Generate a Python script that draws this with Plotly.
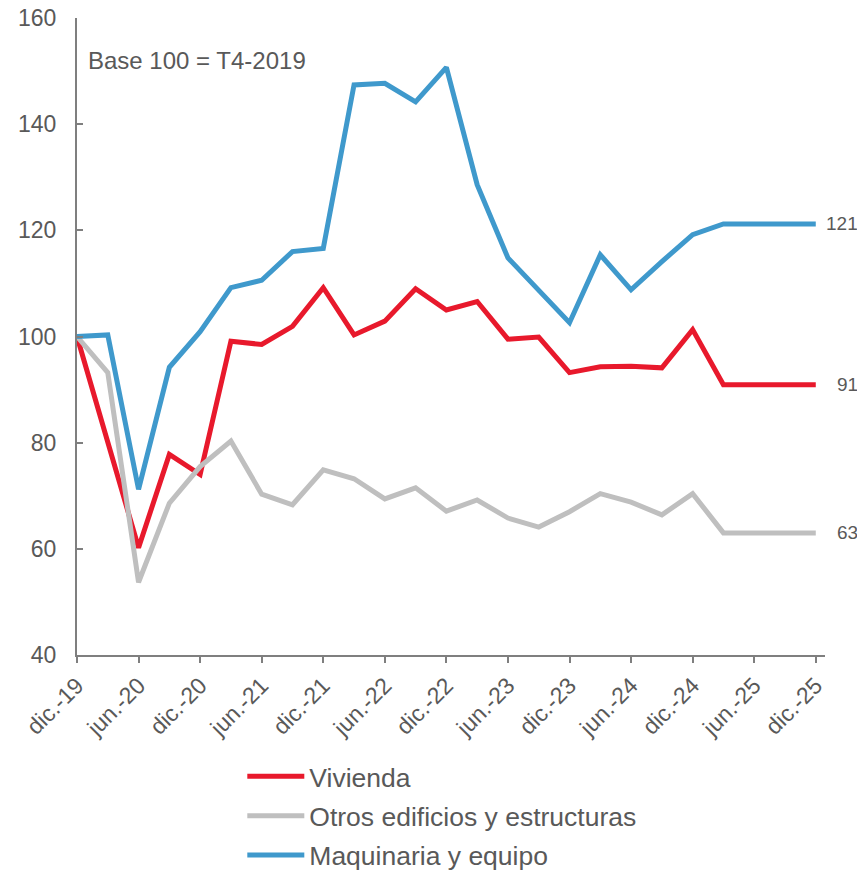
import plotly.graph_objects as go

quarters = ["dic.-19", "mar.-20", "jun.-20", "sep.-20", "dic.-20", "mar.-21", "jun.-21", "sep.-21",
            "dic.-21", "mar.-22", "jun.-22", "sep.-22", "dic.-22", "mar.-23", "jun.-23", "sep.-23",
            "dic.-23", "mar.-24", "jun.-24", "sep.-24", "dic.-24", "mar.-25", "jun.-25", "sep.-25",
            "dic.-25"]

vivienda = [100, 80.3, 60.2, 77.8, 74.0, 99.1, 98.5, 101.9, 109.2, 100.3, 102.9, 109.0, 105.0,
            106.6, 99.5, 99.9, 93.2, 94.3, 94.4, 94.1, 101.3, 90.9, 90.9, 90.9, 90.9]
otros = [100, 93.2, 53.7, 68.6, 75.5, 80.3, 70.3, 68.3, 74.9, 73.2, 69.4, 71.5, 67.1,
         69.2, 65.8, 64.1, 67.0, 70.4, 68.8, 66.4, 70.4, 63.0, 63.0, 63.0, 63.0]
maquinaria = [100, 100.3, 71.2, 94.2, 100.9, 109.2, 110.6, 116.0, 116.6, 147.4, 147.7, 144.2, 150.7,
              128.6, 114.8, 108.6, 102.6, 115.4, 108.8, 114.1, 119.2, 121.2, 121.2, 121.2, 121.2]

tick_labels = quarters[::2]
series_names = ["Vivienda", "Otros edificios y estructuras", "Maquinaria y equipo"]
series_values = [vivienda, otros, maquinaria]
series_colors = ["#E8192C", "#BFBFBF", "#3F99CC"]

TXT = "#595959"
AX = "#7F7F7F"
FONT = "Liberation Sans, Arial"

fig = go.Figure()
for name, vals, col in zip(series_names, series_values, series_colors):
    fig.add_trace(go.Scatter(x=quarters, y=vals, name=name, mode="lines", legendgroup=name,
                             line=dict(color=col, width=5, shape="linear")))

# end labels
for vals in series_values:
    fig.add_annotation(x=quarters[-1], y=vals[-1], text=f"{round(vals[-1])}",
                       xref="x", yref="y", xanchor="right", yanchor="middle",
                       xshift=44, showarrow=False,
                       font=dict(family=FONT, size=19, color=TXT))

fig.add_annotation(x=0.0, y=0.9325, xref="paper", yref="paper", text="Base 100 = T4-2019",
                   xanchor="left", yanchor="middle", xshift=9, showarrow=False,
                   font=dict(family=FONT, size=24, color=TXT))

# the page body has an 8px margin, so the figure is 8px smaller and margins shifted accordingly
fig.update_layout(
    width=857, height=871,
    margin=dict(l=69, r=40, t=10, b=223.5, autoexpand=False),
    paper_bgcolor="white", plot_bgcolor="white",
    font=dict(family=FONT, color=TXT),
    showlegend=True,
    legend=dict(x=0.221, y=-0.153, xanchor="left", yanchor="top", orientation="v",
                font=dict(size=26.5, color=TXT, family=FONT), bgcolor="rgba(0,0,0,0)",
                itemwidth=57, tracegroupgap=2),
)
fig.update_xaxes(type="category", categoryorder="array", categoryarray=quarters,
                 range=[0, 24.3], tickmode="array", tickvals=tick_labels, ticktext=tick_labels,
                 tickangle=-45, tickfont=dict(size=23, color=TXT, family=FONT),
                 showline=True, linecolor=AX, linewidth=2, ticks="outside", ticklen=6,
                 tickcolor=AX, tickwidth=2, showgrid=False, zeroline=False, automargin=False,
                 ticklabeloverflow="allow")
fig.update_yaxes(range=[40, 160], dtick=20, tick0=40, tickfont=dict(size=23, color=TXT, family=FONT),
                 showline=True, linecolor=AX, linewidth=2, ticks="inside", ticklen=6,
                 tickcolor=AX, tickwidth=2, showgrid=False, zeroline=False,
                 ticklabelstandoff=14, automargin=False, ticklabeloverflow="allow")

fig.write_html("out.html")
